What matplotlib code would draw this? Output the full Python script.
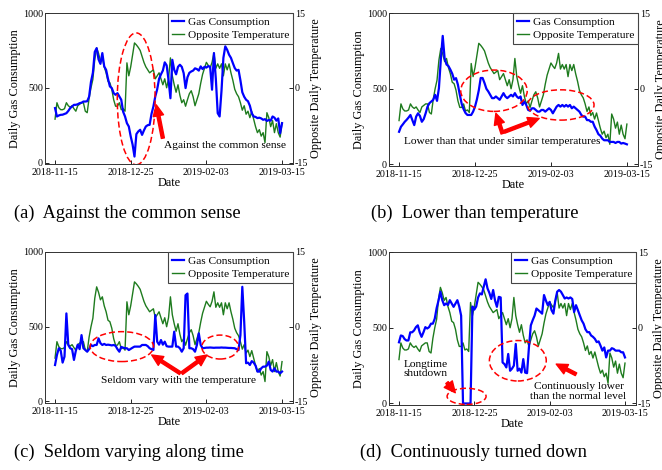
import matplotlib
matplotlib.use('Agg')
import matplotlib.pyplot as plt
import matplotlib.dates as mdates
from matplotlib.patches import Ellipse
import pandas as pd

plt.rcParams['font.family'] = ['Liberation Serif', 'DejaVu Serif']

dates = pd.date_range('2018-11-15', '2019-03-15', freq='D')
tick_dates = pd.to_datetime(['2018-11-15', '2018-12-25', '2019-02-03', '2019-03-15'])

# opposite daily temperature (same for all four panels)
temp = [-6.3, -3.0, -4.0, -4.4, -4.4, -4.2, -3.0, -3.6, -3.9, -3.6,
        -4.2, -4.7, -3.6, -3.3, -3.0, -3.0, -4.7, -5.0, -2.1, 0.0,
        1.7, 5.7, 8.0, 6.9, 5.4, 6.0, 4.2, 3.0, 1.3, 1.0,
        -0.3, -2.4, -3.7, -3.7, -3.0, -4.4, -4.2, -4.7, 5.0, 2.4,
        4.2, 6.6, 9.0, 8.6, 8.1, 7.5, 6.3, 5.1, 4.2, 3.6,
        3.0, 3.3, 3.6, 1.8, 2.4, 3.0, 1.8, 0.6, 1.8, 0.0,
        1.8, 6.0, 2.4, 0.6, -0.9, 0.6, -1.5, -3.0, -2.4, -3.7,
        -2.4, -1.2, -0.6, -1.8, -3.6, -2.4, -1.2, 0.9, 2.7, 3.9,
        5.1, 4.5, 4.0, 5.1, 7.0, 3.9, 4.8, 3.9, 4.8, 2.4,
        4.8, 3.6, 4.8, 3.0, 1.5, -0.3, -1.2, -1.8, -3.0, -4.5,
        -3.6, -5.3, -4.7, -6.0, -4.8, -6.3, -7.8, -9.0, -8.4, -9.7,
        -9.0, -11.0, -5.0, -6.0, -7.8, -6.6, -9.0, -7.2, -9.0, -9.9,
        -7.0]

gas_a = [364, 308, 315, 319, 320, 325, 330, 345, 364, 375,
         386, 386, 390, 397, 400, 408, 408, 410, 440, 540,
         600, 740, 765, 690, 660, 732, 643, 620, 560, 509,
         498, 464, 453, 464, 442, 420, 340, 308, 263, 241,
         175, 120, 40, 190, 208, 219, 185, 215, 241, 250,
         252, 325, 375, 442, 490, 560, 590, 615, 670, 650,
         553, 430, 687, 620, 590, 640, 654, 640, 598, 498,
         570, 600, 609, 615, 630, 625, 615, 643, 625, 640,
         635, 645, 640, 487, 732, 560, 330, 308, 480, 700,
         777, 754, 721, 700, 665, 632, 615, 620, 550, 470,
         440, 420, 410, 380, 330, 308, 305, 297, 300, 295,
         286, 290, 278, 285, 280, 308, 300, 280, 295, 196,
         263]

gas_b = [216, 249, 265, 282, 295, 310, 327, 293, 260, 316,
         338, 320, 282, 300, 338, 382, 405, 416, 427, 460,
         420, 504, 693, 849, 700, 660, 650, 627, 600, 560,
         570, 527, 460, 400, 365, 340, 327, 327, 327, 349,
         382, 430, 490, 571, 571, 538, 500, 482, 460, 438,
         438, 449, 438, 427, 449, 471, 449, 438, 449, 460,
         449, 471, 449, 438, 449, 393, 416, 393, 360, 355,
         371, 371, 360, 349, 349, 360, 360, 349, 360, 371,
         360, 338, 360, 382, 393, 382, 393, 382, 393, 382,
         393, 371, 382, 371, 360, 349, 327, 316, 316, 293,
         293, 282, 282, 250, 227, 200, 190, 171, 160, 160,
         160, 149, 149, 149, 142, 149, 149, 138, 142, 138,
         133]

gas_c = [244, 311, 356, 340, 260, 300, 589, 378, 356, 350,
         278, 340, 380, 350, 444, 356, 345, 333, 350, 378,
         370, 378, 378, 422, 390, 378, 385, 378, 380, 378,
         375, 378, 372, 350, 333, 365, 360, 356, 356, 344,
         352, 360, 367, 367, 367, 367, 378, 378, 378, 370,
         356, 350, 344, 578, 400, 380, 411, 380, 400, 370,
         367, 367, 367, 467, 367, 367, 356, 333, 356, 711,
         722, 356, 356, 350, 333, 378, 456, 378, 356, 358,
         360, 360, 361, 360, 359, 360, 360, 360, 361, 360,
         360, 359, 358, 358, 357, 356, 350, 344, 444, 767,
         533, 256, 260, 244, 270, 260, 240, 200, 200, 222,
         233, 233, 240, 267, 211, 200, 222, 200, 200, 189,
         200]

gas_d = [404, 449, 445, 425, 416, 416, 470, 470, 482, 504,
         516, 470, 440, 470, 504, 495, 504, 527, 527, 560,
         630, 680, 738, 682, 649, 660, 650, 682, 660, 638,
         660, 682, 640, 580, 0, 0, 0, 0, 0, 640,
         620, 640, 700, 727, 720, 771, 820, 760, 730, 690,
         749, 680, 638, 704, 700, 271, 260, 238, 327, 216,
         230, 250, 393, 216, 230, 204, 293, 204, 200, 371,
         516, 550, 580, 627, 616, 605, 593, 716, 680, 649,
         671, 616, 593, 680, 738, 749, 738, 716, 693, 700,
         693, 700, 690, 604, 649, 616, 582, 549, 527, 490,
         471, 471, 449, 440, 427, 405, 410, 382, 349, 370,
         304, 349, 349, 365, 360, 349, 349, 349, 338, 338,
         304]

captions = ['(a)  Against the common sense', '(b)  Lower than temperature',
            '(c)  Seldom varying along time', '(d)  Continuously turned down']

BLUE = '#0000ff'
GREEN = '#1e7b1e'
start = pd.Timestamp('2018-11-15')


def day(n):
    return mdates.date2num(start + pd.Timedelta(days=n))


def draw_panel(rect, gas):
    ax = fig.add_axes(rect)
    ax2 = ax.twinx()
    l1, = ax.plot(dates, gas, color=BLUE, lw=1.6, zorder=3)
    l2, = ax2.plot(dates, temp, color=GREEN, lw=1.0)
    ax.set_zorder(ax2.get_zorder() + 1)
    ax.patch.set_visible(False)
    ax.set_ylim(-10, 1000)
    ax2.set_ylim(-15.3, 15)
    ax.set_yticks([0, 500, 1000])
    ax2.set_yticks([-15, 0, 15])
    ax2.set_yticklabels(['-15', '0', '15'])
    ax.set_xlim(day(-5.3), day(125.8))
    ax.set_xticks(tick_dates)
    ax.xaxis.set_major_formatter(mdates.DateFormatter('%Y-%m-%d'))
    for a in (ax, ax2):
        a.tick_params(direction='in', length=3, width=0.6, labelsize=7.2, pad=1.5)
        for s in a.spines.values():
            s.set_linewidth(0.6)
            s.set_color('#333333')
    ax.tick_params(axis='x', pad=2.8)
    ax.set_xlabel('Date', fontsize=8.8, labelpad=0)
    ax.set_ylabel('Daily Gas Consumption', fontsize=8.8, labelpad=1)
    ax2.set_ylabel('Opposite Daily Temperature', fontsize=8.8, labelpad=1)
    leg = ax.legend([l1, l2], ['Gas Consumption', 'Opposite Temperature'],
                    loc='upper right', fontsize=8.2, handlelength=1.1,
                    handletextpad=0.3, borderpad=0.35, labelspacing=0.3,
                    borderaxespad=0.0, fancybox=False, framealpha=1)
    leg.get_frame().set_edgecolor('#444444')
    leg.get_frame().set_linewidth(0.8)
    return ax


def ellipse(ax, x, y, w, h):
    ax.add_patch(Ellipse((day(x), y), w, h, fill=False, ec='red',
                         ls=(0, (4, 2)), lw=1.1, zorder=5))


def arrow(ax, x0, y0, x1, y1):
    ax.annotate('', xy=(day(x1), y1), xytext=(day(x0), y0),
                arrowprops=dict(facecolor='red', edgecolor='red', width=2.2,
                                headwidth=7.5, headlength=8, shrink=0), zorder=6)


fig = plt.figure(figsize=(6.62, 4.70), dpi=100)

# (a)
ax = draw_panel([0.068, 0.651, 0.3746, 0.3213], gas_a)
ellipse(ax, 42.9, 426, 20, 882)
arrow(ax, 57, 163, 53.5, 386)
ax.text(day(57.5), 112, 'Against the common sense', fontsize=8.2, va='center', zorder=6)

# (b)
ax = draw_panel([0.5876, 0.6468, 0.376, 0.3255], gas_b)
ellipse(ax, 50, 487, 35, 273)
ellipse(ax, 85.2, 393, 35, 200)
arrow(ax, 54.5, 204, 51, 338)
arrow(ax, 55.4, 216, 73.8, 304)
ax.text(day(54.5), 149, 'Lower than that under similar temperatures', fontsize=8.2,
        ha='center', va='center', zorder=6)

# (c)
ax = draw_panel([0.068, 0.1426, 0.3746, 0.3213], gas_c)
ellipse(ax, 35.3, 367, 33.5, 200)
ellipse(ax, 87.3, 364, 19.4, 160)
arrow(ax, 66.2, 189, 51.1, 311)
arrow(ax, 67, 189, 80.3, 311)
ax.text(day(65.3), 140, 'Seldom vary with the temperature', fontsize=8.2,
        ha='center', va='center', zorder=6)

# (d)
ax = draw_panel([0.5876, 0.1383, 0.373, 0.3255], gas_d)
ellipse(ax, 35.9, 47, 20.7, 107)
ellipse(ax, 63.1, 282, 30.2, 267)
arrow(ax, 25.5, 138, 29.9, 71)
arrow(ax, 94, 193, 83.5, 260)
ax.text(day(14), 227, 'Longtime\nshutdown', fontsize=8.2, ha='center', va='center',
        linespacing=1.1, zorder=6)
ax.text(day(95.3), 78, 'Continuously lower\nthan the normal level', fontsize=8.2,
        ha='center', va='center', linespacing=1.1, zorder=6)

# captions
fig.text(0.021, 0.547, captions[0], fontsize=13.2, va='center')
fig.text(0.560, 0.547, captions[1], fontsize=13.2, va='center')
fig.text(0.021, 0.038, captions[2], fontsize=13.2, va='center')
fig.text(0.544, 0.038, captions[3], fontsize=13.2, va='center')

fig.savefig('out.png', dpi=100)
